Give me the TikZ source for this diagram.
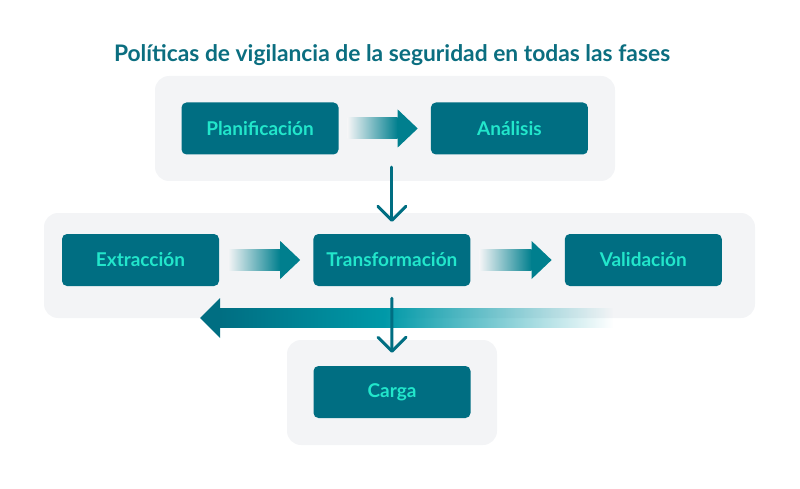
\documentclass[tikz,border=0pt]{standalone}
\usepackage{fontspec}
\setmainfont{Lato}
\usetikzlibrary{positioning,arrows.meta,fadings}
\definecolor{tealbox}{HTML}{006E82}
\definecolor{tealmid}{HTML}{0099A8}
\definecolor{tealarrow}{HTML}{007F8E}
\definecolor{aqua}{HTML}{22E6CB}
\definecolor{panelgray}{HTML}{F3F4F6}
\definecolor{titleteal}{HTML}{0B6E80}
\tikzset{
  phase/.style={rounded corners=5pt, fill=tealbox, text=aqua, minimum width=157pt, minimum height=52pt, inner sep=0pt, font=\bfseries\fontsize{19}{20}\selectfont},
  panel/.style={rounded corners=14pt, fill=panelgray, inner sep=0pt},
  flowline/.style={draw=tealbox, line width=3pt, line cap=round, -{Straight Barb[length=14pt, width=28pt, round]}},
}
% gradient arrow between two phases
\newcommand\fadearrow[2]{%
  \shade[left color=panelgray, right color=tealarrow] ([xshift=9pt,yshift=-10.5pt]#1.east) rectangle ([xshift=-33pt,yshift=10.5pt]#2.west);
  \fill[tealarrow] ([xshift=-33pt,yshift=19pt]#2.west) -- ([xshift=-13pt]#2.west) -- ([xshift=-33pt,yshift=-19pt]#2.west) -- cycle;}
\begin{document}
\begin{tikzpicture}[x=1pt, y=-1pt, line join=round]
  \useasboundingbox (0,0) rectangle (800,489);
  \node[text=titleteal, font=\bfseries\fontsize{22.8}{24}\selectfont] (title) at (392,55) {Políticas de vigilancia de la seguridad en todas las fases};
  % fondos
  \node[panel, minimum width=460pt, minimum height=105pt] (toppanel) at (385,128.5) {};
  \node[panel, minimum width=711pt, minimum height=105pt] (midpanel) at (399.5,265.5) {};
  \node[panel, minimum width=210pt, minimum height=105pt] (botpanel) at (392,392.5) {};
  % flecha de retorno
  \shade[left color=tealbox, right color=tealmid] (220,308) rectangle (385,327.5);
  \fill[tealmid, path fading=east] (384.5,308) rectangle (613,327.5);
  \fill[tealbox] (220,298) -- (200,318) -- (220,338) -- cycle;
  % fases
  \node[phase] (plan) at (260,128.5) {Planificación};
  \node[phase, right=92pt of plan] (anal) {Análisis};
  \node[phase] (extr) at (140.5,260) {Extracción};
  \node[phase, right=94pt of extr] (trans) {Transformación};
  \node[phase, right=94pt of trans] (valid) {Validación};
  \node[phase] (carga) at (392,392) {Carga};
  \fadearrow{plan}{anal}
  \fadearrow{extr}{trans}
  \fadearrow{trans}{valid}
  \draw[flowline] ([yshift=14pt]toppanel.south -| trans.north) -- ([yshift=12pt]trans.north);
  \draw[flowline] ([yshift=-12pt]trans.south) -- ([yshift=13pt]carga.north);
\end{tikzpicture}
\end{document}
